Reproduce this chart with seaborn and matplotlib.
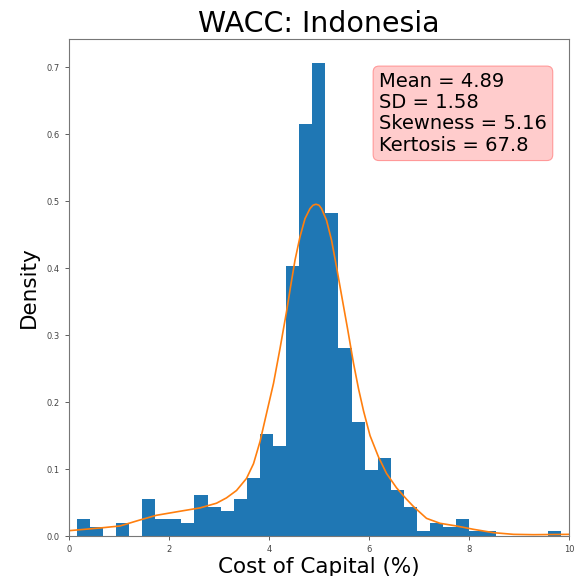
import numpy as np
import pandas as pd
import matplotlib
matplotlib.use("Agg")
import matplotlib.pyplot as plt
import seaborn as sns

# histogram heights (density), 37 equal bins
bin_lo, bin_hi = 0.153, 9.84
heights = [0.026, 0.013, 0.0, 0.019, 0.0, 0.056, 0.025, 0.025, 0.019, 0.061,
           0.044, 0.037, 0.056, 0.086, 0.153, 0.134, 0.403, 0.616, 0.707, 0.482,
           0.281, 0.171, 0.0985, 0.116, 0.068, 0.044, 0.0075, 0.019, 0.014, 0.026,
           0.0075, 0.0075, 0.0, 0.0, 0.0, 0.0, 0.0075]

# density curve points
kde_x = [0.0, 0.62, 1.02, 1.42, 1.75, 2.22, 2.62, 2.95, 3.15, 3.35, 3.55, 3.69,
         3.82, 3.95, 4.09, 4.22, 4.35, 4.43, 4.52, 4.62, 4.72, 4.82, 4.88, 4.94,
         5.0, 5.05, 5.15, 5.25, 5.35, 5.45, 5.57, 5.69, 5.79, 5.89, 6.02, 6.19,
         6.35, 6.55, 6.75, 6.89, 7.15, 7.42, 7.75, 8.09, 8.49, 8.89, 9.29, 10.0]
kde_y = [0.008, 0.012, 0.015, 0.024, 0.031, 0.037, 0.042, 0.049, 0.057, 0.068,
         0.086, 0.108, 0.141, 0.183, 0.228, 0.28, 0.335, 0.372, 0.412, 0.447,
         0.474, 0.489, 0.494, 0.4955, 0.494, 0.489, 0.4716, 0.442, 0.402, 0.36,
         0.31, 0.258, 0.22, 0.187, 0.150, 0.118, 0.0935, 0.072, 0.055, 0.044,
         0.0264, 0.019, 0.015, 0.010, 0.005, 0.0025, 0.002, 0.0025]

stats_text = "Mean = 4.89\nSD = 1.58\nSkewness = 5.16\nKertosis = 67.8"

n_bins = len(heights)
width = (bin_hi - bin_lo) / n_bins
centers = [bin_lo + width * (i + 0.5) for i in range(n_bins)]
hist_df = pd.DataFrame({"x": centers, "h": heights})
kde_df = pd.DataFrame({"x": kde_x, "y": kde_y})

fig = plt.figure(figsize=(5.75, 5.76), dpi=100)
ax = fig.add_axes([0.12, 0.0694, 0.8696, 0.8626])

sns.histplot(data=hist_df, x="x", weights="h", bins=n_bins,
             binrange=(bin_lo, bin_hi), stat="count",
             color="#1f77b4", alpha=1, linewidth=0, ax=ax)
sns.lineplot(data=kde_df, x="x", y="y", color="#ff7f0e", linewidth=1.2, ax=ax)

ax.set_xlim(0, 10)
ax.set_ylim(0, 0.742)
ax.set_yticks(np.arange(0, 0.71, 0.1))
ax.set_xticks([0, 2, 4, 6, 8, 10])
ax.tick_params(labelsize=6, colors="#444444", length=3, width=0.6)
for s in ax.spines.values():
    s.set_color("#777777")
    s.set_linewidth(0.8)

ax.set_title("WACC: Indonesia", fontsize=20.5, pad=5)
ax.set_xlabel("Cost of Capital (%)", fontsize=15.5, labelpad=2)
ax.set_ylabel("Density", fontsize=15.5, labelpad=6)

ax.text(0.62, 0.934, stats_text, transform=ax.transAxes, fontsize=14,
        va="top", ha="left", linespacing=1.15,
        bbox=dict(boxstyle="round,pad=0.3", facecolor=(1, 0.8, 0.8),
                  edgecolor=(1, 0.6, 0.6), linewidth=0.8))

fig.savefig("out.png", dpi=100)
